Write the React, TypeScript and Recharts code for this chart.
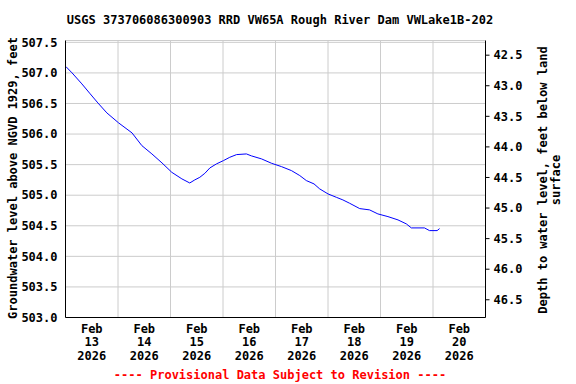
import React from 'react';
import { LineChart, Line, XAxis, YAxis, CartesianGrid, ReferenceLine } from 'recharts';

// hours since Feb 13 2026 00:00
const hours = [0.2, 3.0, 7.5, 11.3, 14.8, 18.9, 24.3, 30.4, 34.9, 39.5, 44.1, 48.6, 53.2, 56.8, 59.1, 61.4, 63.7, 66.0, 69.0, 72.2, 75.1, 78.2, 82.7, 85.0, 89.6, 94.2, 98.7, 103.3, 107.1, 110.1, 113.6, 116.2, 120.0, 123.8, 126.8, 129.9, 134.5, 139.0, 142.8, 147.4, 152.0, 155.8, 158.1, 164.1, 166.4, 169.9, 171.0];
const levels = [507.103, 507.0, 506.82, 506.657, 506.509, 506.346, 506.182, 506.019, 505.811, 505.675, 505.528, 505.374, 505.267, 505.2, 505.25, 505.293, 505.358, 505.446, 505.512, 505.566, 505.62, 505.664, 505.675, 505.643, 505.594, 505.522, 505.468, 505.402, 505.321, 505.239, 505.185, 505.103, 505.021, 504.966, 504.923, 504.868, 504.781, 504.76, 504.694, 504.65, 504.596, 504.531, 504.465, 504.465, 504.421, 504.421, 504.454];
// land surface elevation (depth = landSurface - level)
const landSurface = 549.79;

const leftTicks = [503.0, 503.5, 504.0, 504.5, 505.0, 505.5, 506.0, 506.5, 507.0, 507.5];
const rightTicks = [42.5, 43.0, 43.5, 44.0, 44.5, 45.0, 45.5, 46.0, 46.5];
const dayGridHours = [24, 48, 72, 96, 120, 144, 168];
const labelHours = [12, 36, 60, 84, 108, 132, 156, 180];
const labelMonth = 'Feb';
const labelDays = ['13', '14', '15', '16', '17', '18', '19', '20'];
const labelYear = '2026';

const title = 'USGS 373706086300903 RRD VW65A Rough River Dam VWLake1B-202';
const leftTitle = 'Groundwater level above NGVD 1929, feet';
const rightTitle1 = 'Depth to water level, feet below land';
const rightTitle2 = 'surface';
const footer = '---- Provisional Data Subject to Revision ----';

const data = hours.map((h, i) => ({ h, v: levels[i], d: landSurface - levels[i] }));

const FONT = '"DejaVu Sans Mono", monospace';

const XTick = (props: any) => {
  const { x, y, payload } = props;
  const idx = labelHours.indexOf(payload.value);
  return (
    <text x={x} y={y} textAnchor="middle" fontFamily={FONT} fontWeight="bold" fontSize={12} fill="#000">
      <tspan x={x} dy={7}>{labelMonth}</tspan>
      <tspan x={x} dy={13.5}>{labelDays[idx]}</tspan>
      <tspan x={x} dy={13.5}>{labelYear}</tspan>
    </text>
  );
};

const fmt = (v: number) => v.toFixed(1);

export default function App() {
  return (
    <div style={{ position: 'absolute', left: 0, top: 0, width: 576, height: 384, background: '#fff' }}>
      <LineChart
        width={576}
        height={384}
        data={data}
        margin={{ top: 40.5, right: 0.5, bottom: 0.5, left: 0.5 }}
      >
        <CartesianGrid vertical={false} stroke="#cccccc" yAxisId="left" />
        <XAxis
          dataKey="h"
          type="number"
          domain={[0, 192]}
          ticks={labelHours}
          tick={<XTick />}
          tickLine={false}
          axisLine={{ stroke: '#000' }}
          height={66}
          interval={0}
        />
        <XAxis xAxisId="top" orientation="top" dataKey="h" type="number" domain={[0, 192]} tick={false} tickLine={false} axisLine={{ stroke: '#000' }} height={0} />
        <YAxis
          yAxisId="left"
          type="number"
          domain={[503, 507.53]}
          allowDataOverflow
          ticks={leftTicks}
          tickFormatter={fmt}
          tickLine={false}
          tickSize={0}
          tickMargin={8}
          axisLine={{ stroke: '#000' }}
          width={65}
          interval={0}
          tick={{ fontFamily: FONT, fontWeight: 'bold', fontSize: 12, fill: '#000' }}
        />
        <YAxis
          yAxisId="right"
          orientation="right"
          type="number"
          domain={[42.26, 46.79]}
          allowDataOverflow
          reversed
          ticks={rightTicks}
          tickFormatter={fmt}
          tickSize={4}
          tickMargin={4}
          tickLine={{ stroke: '#000' }}
          axisLine={{ stroke: '#000' }}
          width={90}
          interval={0}
          tick={{ fontFamily: FONT, fontWeight: 'bold', fontSize: 12, fill: '#000' }}
        />
        {dayGridHours.map((d) => (
          <ReferenceLine key={d} x={d} yAxisId="left" stroke="#cccccc" />
        ))}
        <Line
          yAxisId="right"
          type="linear"
          dataKey="d"
          stroke="none"
          strokeOpacity={0}
          dot={false}
          activeDot={false}
          isAnimationActive={false}
        />
        <Line
          yAxisId="left"
          type="linear"
          dataKey="v"
          stroke="#0000ff"
          strokeWidth={1}
          dot={false}
          isAnimationActive={false}
        />
      </LineChart>
      <div style={{ position: 'absolute', left: 0, top: 13, width: 560, textAlign: 'center', fontFamily: FONT, fontWeight: 'bold', fontSize: 12, lineHeight: '14px', color: '#000', whiteSpace: 'nowrap' }}>
        {title}
      </div>
      <div style={{ position: 'absolute', left: 13, top: 178, transform: 'translate(-50%, -50%) rotate(-90deg)', fontFamily: FONT, fontWeight: 'bold', fontSize: 12, lineHeight: '14px', color: '#000', whiteSpace: 'nowrap' }}>
        {leftTitle}
      </div>
      <div style={{ position: 'absolute', left: 550, top: 180, transform: 'translate(-50%, -50%) rotate(-90deg)', fontFamily: FONT, fontWeight: 'bold', fontSize: 12, lineHeight: '13px', color: '#000', whiteSpace: 'nowrap', textAlign: 'center' }}>
        <div>{rightTitle1}</div>
        <div>{rightTitle2}</div>
      </div>
      <div style={{ position: 'absolute', left: 0, top: 368, width: 560, textAlign: 'center', fontFamily: FONT, fontWeight: 'bold', fontSize: 12, lineHeight: '14px', color: '#ff0000', whiteSpace: 'nowrap' }}>
        {footer}
      </div>
    </div>
  );
}
